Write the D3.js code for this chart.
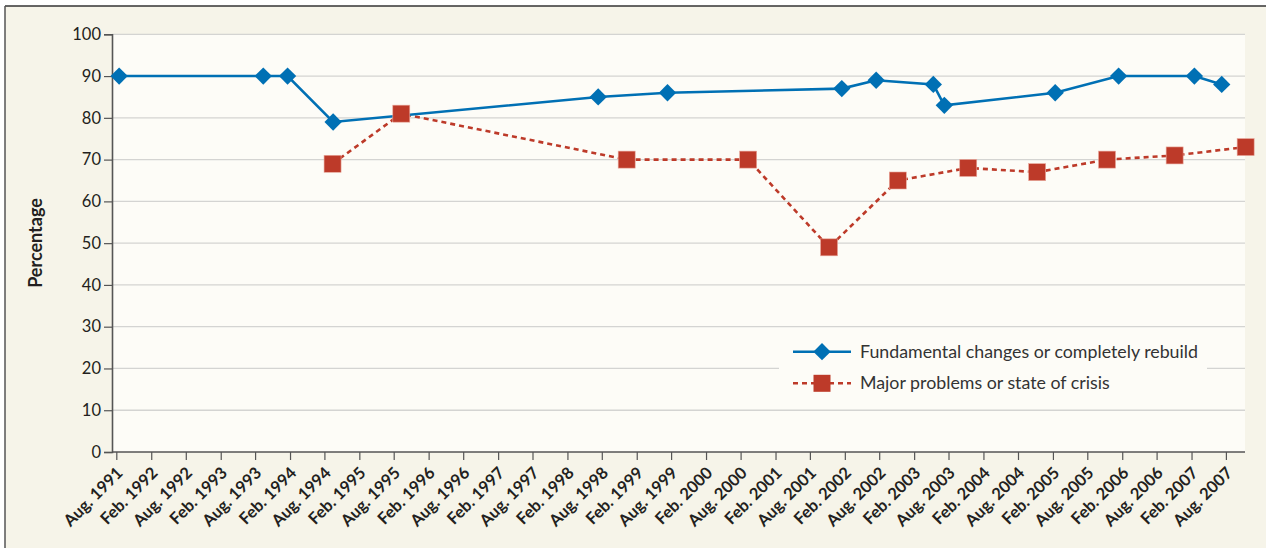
<!DOCTYPE html>
<html>
<head>
<meta charset="utf-8">
<script src="https://cdn.jsdelivr.net/npm/d3@7"></script>
<style>
  body { margin: 0; background: #fff; }
  svg text { font-family: Lato, "Noto Sans", sans-serif; fill: #231f20; }
</style>
</head>
<body>
<div id="chart"></div>
<script>
// survey dates and percentages
var rebuildDates = ["1991-08-16", "1993-09-13", "1994-01-19", "1994-09-16", "1998-07-13",
  "1999-07-13", "2002-01-16", "2002-07-16", "2003-05-13", "2003-07-10", "2005-02-13",
  "2006-01-13", "2007-02-16", "2007-07-10"];
var rebuildValues = [90, 90, 90, 79, 85, 86, 87, 89, 88, 83, 86, 90, 90, 88];

var crisisDates = ["1994-09-13", "1995-09-10", "1998-12-10", "2000-09-10", "2001-11-10",
  "2002-11-07", "2003-11-13", "2004-11-10", "2005-11-13", "2006-11-04", "2007-11-13"];
var crisisValues = [69, 81, 70, 70, 49, 65, 68, 67, 70, 71, 73];

var tickLabels = ["Aug. 1991", "Feb. 1992", "Aug. 1992", "Feb. 1993", "Aug. 1993",
  "Feb. 1994", "Aug. 1994", "Feb. 1995", "Aug. 1995", "Feb. 1996", "Aug. 1996",
  "Feb. 1997", "Aug. 1997", "Feb. 1998", "Aug. 1998", "Feb. 1999", "Aug. 1999",
  "Feb. 2000", "Aug. 2000", "Feb. 2001", "Aug. 2001", "Feb. 2002", "Aug. 2002",
  "Feb. 2003", "Aug. 2003", "Feb. 2004", "Aug. 2004", "Feb. 2005", "Aug. 2005",
  "Feb. 2006", "Aug. 2006", "Feb. 2007", "Aug. 2007"];
var yTicks = [0, 10, 20, 30, 40, 50, 60, 70, 80, 90, 100];

var seriesNames = ["Fundamental changes or completely rebuild", "Major problems or state of crisis"];

var W = 1266, H = 548;
var blue = "#0070b4", red = "#bd3a29";
var parse = d3.timeParse("%Y-%m-%d");
var parseTick = d3.timeParse("%b. %Y");

var svg = d3.select("#chart").append("svg")
  .attr("width", W).attr("height", H);

// outer panel
svg.append("rect").attr("x", 5).attr("y", 6).attr("width", W - 5).attr("height", H - 6)
  .attr("fill", "#f6f4e9");
svg.append("line").attr("x1", 5).attr("x2", W).attr("y1", 6).attr("y2", 6)
  .attr("stroke", "#333").attr("stroke-width", 1.5);
svg.append("line").attr("x1", 5).attr("x2", 5).attr("y1", 6).attr("y2", H)
  .attr("stroke", "#555").attr("stroke-width", 1.5);

var plotL = 112, plotR = 1245;
var x = d3.scaleTime()
  .domain([parseTick("Aug. 1991"), parseTick("Aug. 2007")])
  .range([116.3, 1225.9]);
var y = d3.scaleLinear().domain([0, 100]).range([452, 34.3]);

svg.append("rect").attr("x", plotL).attr("y", y(100)).attr("width", plotR - plotL)
  .attr("height", y(0) - y(100)).attr("fill", "#fdfcf7");

// gridlines
svg.append("g").selectAll("line").data(yTicks.filter(function(d){ return d > 0; }))
  .join("line")
  .attr("x1", plotL).attr("x2", plotR)
  .attr("y1", function(d){ return y(d); }).attr("y2", function(d){ return y(d); })
  .attr("stroke", "#d4d4d2").attr("stroke-width", 1.3);

// legend box hides part of the grid
var lg = svg.append("g");
lg.append("rect").attr("x", 779).attr("y", 333).attr("width", 428).attr("height", 70)
  .attr("fill", "#fdfcf7");

// y axis
var yAxis = svg.append("g").attr("transform", "translate(" + plotL + ",0)")
  .call(d3.axisLeft(y).tickValues(yTicks).tickSize(8).tickPadding(3));
yAxis.select(".domain").attr("stroke", "#555").attr("stroke-width", 1.6);
yAxis.selectAll(".tick line").attr("stroke", "#555").attr("stroke-width", 1.2);
yAxis.selectAll("text").attr("font-size", 16.5);

svg.append("text").attr("transform", "translate(42,243) rotate(-90)")
  .attr("text-anchor", "middle").attr("font-size", 18).attr("font-weight", "bold")
  .text("Percentage");

// x axis
var xAxis = svg.append("g").attr("transform", "translate(0," + y(0) + ")")
  .call(d3.axisBottom(x).tickValues(tickLabels.map(parseTick)).tickSize(8)
    .tickFormat(function(d, i){ return tickLabels[i]; }));
xAxis.select(".domain").remove();
xAxis.append("line").attr("x1", plotL).attr("x2", plotR)
  .attr("stroke", "#555").attr("stroke-width", 1.6);
xAxis.selectAll(".tick line").attr("stroke", "#555").attr("stroke-width", 1.2);
xAxis.selectAll(".tick text")
  .attr("font-size", 16.5).attr("font-weight", "bold")
  .attr("text-anchor", "end")
  .attr("dy", null).attr("y", 0)
  .attr("transform", "translate(7,22) rotate(-45)");

// series
var rebuild = rebuildDates.map(function(d, i){ return {date: parse(d), value: rebuildValues[i]}; });
var crisis = crisisDates.map(function(d, i){ return {date: parse(d), value: crisisValues[i]}; });

var line = d3.line()
  .x(function(d){ return x(d.date); })
  .y(function(d){ return y(d.value); });

svg.append("path").datum(crisis).attr("d", line)
  .attr("fill", "none").attr("stroke", red).attr("stroke-width", 2.6)
  .attr("stroke-dasharray", "5,4");
svg.append("path").datum(rebuild).attr("d", line)
  .attr("fill", "none").attr("stroke", blue).attr("stroke-width", 2.6);

var diamond = d3.symbol().type(d3.symbolSquare).size(150);

svg.append("g").selectAll("rect").data(crisis).join("rect")
  .attr("x", function(d){ return x(d.date) - 8.5; })
  .attr("y", function(d){ return y(d.value) - 8.5; })
  .attr("width", 17).attr("height", 17)
  .attr("fill", red).attr("stroke", "#e9a89c").attr("stroke-width", 0.6);

svg.append("g").selectAll("path").data(rebuild).join("path")
  .attr("d", diamond)
  .attr("transform", function(d){ return "translate(" + x(d.date) + "," + y(d.value) + ") rotate(45)"; })
  .attr("fill", blue);

// legend
var legendY = [351.7, 383.3];
lg.selectAll("line.key").data(seriesNames).join("line")
  .attr("x1", 793).attr("x2", 851)
  .attr("y1", function(d, i){ return legendY[i]; }).attr("y2", function(d, i){ return legendY[i]; })
  .attr("stroke", function(d, i){ return i ? red : blue; })
  .attr("stroke-width", 2.6)
  .attr("stroke-dasharray", function(d, i){ return i ? "5,4" : null; });
lg.append("path").attr("d", diamond)
  .attr("transform", "translate(822," + legendY[0] + ") rotate(45)").attr("fill", blue);
lg.append("rect").attr("x", 822 - 8.5).attr("y", legendY[1] - 8.5)
  .attr("width", 17).attr("height", 17).attr("fill", red);
lg.selectAll("text").data(seriesNames).join("text")
  .attr("x", 860).attr("y", function(d, i){ return legendY[i] + 6; })
  .attr("font-size", 17.8).style("fill", "#333")
  .text(function(d){ return d; });
</script>
</body>
</html>
